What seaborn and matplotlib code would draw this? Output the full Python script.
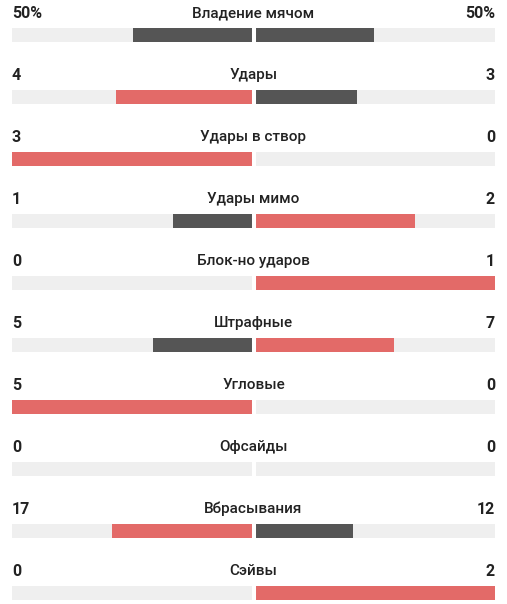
import pandas as pd
import matplotlib.pyplot as plt
import seaborn as sns

# match stats, home (left) vs away (right)
stats = ['Владение мячом', 'Удары', 'Удары в створ', 'Удары мимо', 'Блок-но ударов',
         'Штрафные', 'Угловые', 'Офсайды', 'Вбрасывания', 'Сэйвы']
home = [50, 4, 3, 1, 0, 5, 5, 0, 17, 0]
away = [50, 3, 0, 2, 1, 7, 0, 0, 12, 2]
home_labels = ['50%', '4', '3', '1', '0', '5', '5', '0', '17', '0']
away_labels = ['50%', '3', '0', '2', '1', '7', '0', '0', '12', '2']

RED = '#e36a68'
GREY = '#555555'
TRACK = '#efefef'

left_rows, right_rows = [], []
for s, h, a in zip(stats, home, away):
    total = h + a
    hf = h / total if total else 0
    af = a / total if total else 0
    left_rows.append({'stat': s, 'frac': -hf, 'col': RED if h > a else GREY})
    right_rows.append({'stat': s, 'frac': af, 'col': RED if a > h else GREY})
left = pd.DataFrame(left_rows)
right = pd.DataFrame(right_rows)

fig = plt.figure(figsize=(5.07, 6.04), dpi=100)
ax = fig.add_axes([12 / 507, 0, 483 / 507, 1])

bar_h = 14 / 62
pal = {RED: RED, GREY: GREY}
for full in (-1, 1):
    trk = pd.DataFrame({'stat': stats, 'frac': [full] * len(stats)})
    sns.barplot(data=trk, x='frac', y='stat', orient='h', color=TRACK,
                width=bar_h, ax=ax, errorbar=None, saturation=1)
for side in (left, right):
    sns.barplot(data=side, x='frac', y='stat', hue='col', palette=pal,
                orient='h', dodge=False, width=bar_h, ax=ax, errorbar=None,
                legend=False, saturation=1)

ax.axvline(0, color='white', lw=2.9)
ax.set_xlim(-1, 1)
ax.set_ylim((604 - 35) / 62, -35 / 62)
ax.axis('off')

off = 22 / 62
for i, s in enumerate(stats):
    ax.text(0, i - off, s, ha='center', va='center', fontsize=11,
            family='Roboto', weight='medium', color='#222222')
    ax.text(-1, i - off, home_labels[i], ha='left', va='center', fontsize=11.5,
            family='Roboto', weight='bold', color='#222222')
    ax.text(1, i - off, away_labels[i], ha='right', va='center', fontsize=11.5,
            family='Roboto', weight='bold', color='#222222')

fig.savefig('out.png', dpi=100)
